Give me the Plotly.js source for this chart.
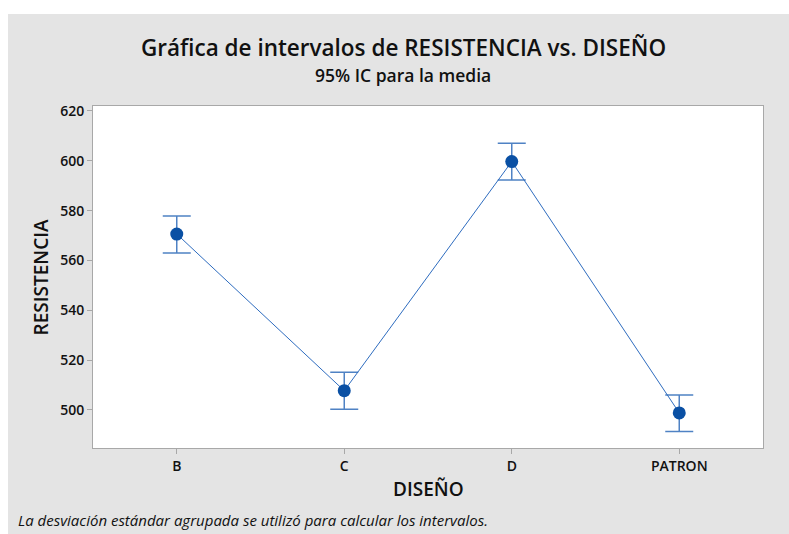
<!DOCTYPE html>
<html>
<head>
<meta charset="utf-8">
<script src="https://cdn.plot.ly/plotly-3.0.1.min.js"></script>
<style>
  body { margin: 0; background: #fff; }
  #chart { position: absolute; left: 8px; top: 14px; width: 781px; height: 520px; }
</style>
</head>
<body>
<div id="chart"></div>
<script>
// interval plot data
let disenos = ['B', 'C', 'D', 'PATRON']
let medias = [570.6, 507.7, 599.7, 498.8]
let superior = [577.8, 515.1, 607.0, 506.0]
let inferior = [563.0, 500.3, 592.3, 491.3]
let yTicks = [500, 520, 540, 560, 580, 600, 620]

let fontFam = '"Open Sans", "Noto Sans", sans-serif'

let trace = {
    x: disenos,
    y: medias,
    type: 'scatter',
    mode: 'lines+markers',
    line: { color: '#2e6cbf', width: 1 },
    marker: { color: '#0a50a4', size: 13 },
    error_y: {
        type: 'data',
        symmetric: false,
        array: superior.map((v, i) => v - medias[i]),
        arrayminus: medias.map((v, i) => v - inferior[i]),
        color: '#4f82c4',
        thickness: 1.5,
        width: 14
    },
    hoverinfo: 'x+y'
}

let layout = {
    width: 781,
    height: 520,
    paper_bgcolor: '#e4e4e4',
    plot_bgcolor: '#ffffff',
    margin: { l: 85, r: 26, t: 92, b: 86 },
    showlegend: false,
    font: { family: fontFam, color: '#111' },
    xaxis: {
        range: [-0.5, 3.5],
        showline: true, mirror: true, linecolor: '#a8a8a8', linewidth: 1,
        ticks: 'outside', ticklen: 5, tickcolor: '#a8a8a8',
        tickfont: { size: 14, color: '#111', weight: 600 },
        showgrid: false, zeroline: false
    },
    yaxis: {
        range: [484.7, 622],
        tickvals: yTicks,
        showline: true, mirror: true, linecolor: '#a8a8a8', linewidth: 1,
        ticks: 'outside', ticklen: 5, tickcolor: '#a8a8a8',
        tickfont: { size: 14, color: '#111', weight: 600 },
        showgrid: false, zeroline: false
    },
    annotations: [
        { text: 'Gráfica de intervalos de RESISTENCIA vs. DISEÑO', xref: 'paper', yref: 'paper',
          x: 0.463, y: 1.17, showarrow: false, xanchor: 'center', yanchor: 'middle',
          font: { size: 22.5, weight: 600, color: '#111' } },
        { text: '95% IC para la media', xref: 'paper', yref: 'paper',
          x: 0.463, y: 1.09, showarrow: false, xanchor: 'center', yanchor: 'middle',
          font: { size: 17.5, weight: 600, color: '#111' } },
        { text: 'DISEÑO', xref: 'paper', yref: 'paper',
          x: 0.5, y: -0.12, showarrow: false, xanchor: 'center', yanchor: 'middle',
          font: { size: 19, weight: 600, color: '#111' } },
        { text: 'RESISTENCIA', xref: 'paper', yref: 'paper',
          x: -0.077, y: 0.5, textangle: -90, showarrow: false, xanchor: 'center', yanchor: 'middle',
          font: { size: 19, weight: 600, color: '#111' } },
        { text: '<i>La desviación estándar agrupada se utilizó para calcular los intervalos.</i>',
          xref: 'paper', yref: 'paper', x: -0.115, y: -0.21, showarrow: false,
          xanchor: 'left', yanchor: 'middle', font: { size: 15, color: '#111' } }
    ]
}

Plotly.newPlot('chart', [trace], layout, { displayModeBar: false, staticPlot: true })
</script>
</body>
</html>
